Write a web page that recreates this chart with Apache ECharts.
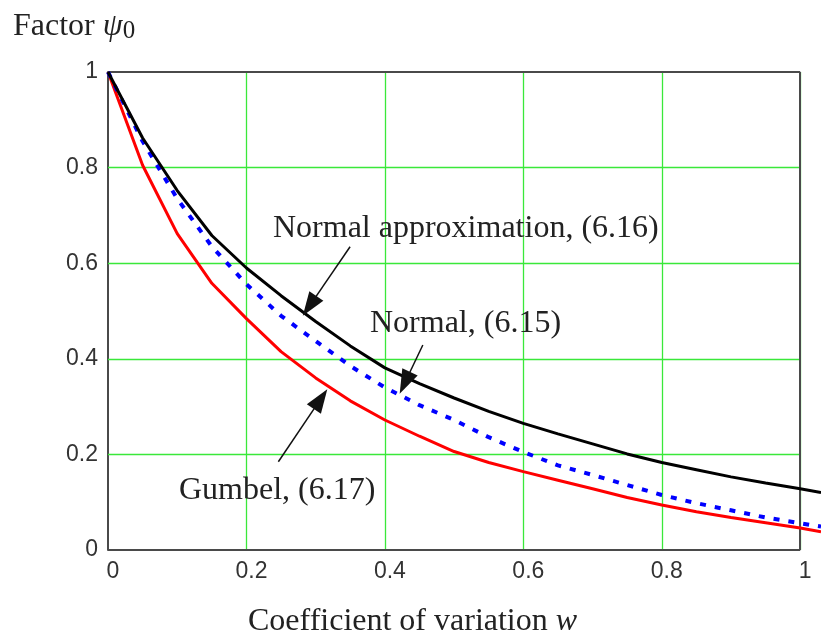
<!DOCTYPE html>
<html>
<head>
<meta charset="utf-8">
<script src="https://cdn.jsdelivr.net/npm/echarts@6/dist/echarts.min.js"></script>
<style>html,body{margin:0;padding:0;background:#fff}#c{width:821px;height:632px}</style>
</head>
<body>
<div id="c"></div>
<script>
// Coefficient of variation w
var wValues = [0, 0.05, 0.1, 0.15, 0.2, 0.25, 0.3, 0.35, 0.4, 0.45, 0.5, 0.55, 0.6, 0.65, 0.7, 0.75, 0.8, 0.85, 0.9, 0.95, 1.0, 1.03];
// Normal approximation, (6.16)
var normalApprox = [1, 0.862, 0.752, 0.658, 0.59, 0.532, 0.478, 0.427, 0.381, 0.348, 0.318, 0.29, 0.265, 0.243, 0.222, 0.201, 0.183, 0.168, 0.153, 0.14, 0.128, 0.12];
// Normal, (6.15)
var normalExact = [1, 0.855, 0.735, 0.635, 0.556, 0.49, 0.437, 0.385, 0.34, 0.303, 0.272, 0.236, 0.205, 0.177, 0.157, 0.136, 0.115, 0.098, 0.083, 0.068, 0.056, 0.049];
// Gumbel, (6.17)
var gumbel = [1, 0.805, 0.662, 0.558, 0.484, 0.415, 0.36, 0.312, 0.272, 0.238, 0.206, 0.183, 0.164, 0.146, 0.128, 0.11, 0.094, 0.08, 0.068, 0.057, 0.046, 0.038];
var xTicks = [0, 0.2, 0.4, 0.6, 0.8, 1];
var yTicks = [0, 0.2, 0.4, 0.6, 0.8, 1];

var labelApprox = 'Normal approximation, (6.16)';
var labelNormal = 'Normal, (6.15)';
var labelGumbel = 'Gumbel, (6.17)';

function pairs(ys) { return wValues.map(function (w, i) { return [w, ys[i]]; }); }

var chart = echarts.init(document.getElementById('c'), null, { renderer: 'canvas' });
var serif = '"Liberation Serif", "Times New Roman", serif';
var sans = '"Liberation Sans", Arial, sans-serif';
var xMin = xTicks[0], xMax = xTicks[xTicks.length - 1];
var yMin = yTicks[0], yMax = yTicks[yTicks.length - 1];
var xExtent = 1.03; // curves run past the plot frame to the image edge

function seg(a, b, style) {
  return [{ coord: a, symbol: 'none', lineStyle: style }, { coord: b, symbol: 'none', lineStyle: style }];
}
function arrow(a, b) {
  return [{ coord: a, symbol: 'none' }, { coord: b, symbol: 'triangle' }];
}

var greenStyle = { color: '#3ae83a', width: 1.3, type: 'solid' };
var frameStyle = { color: '#4a4a4a', width: 2, type: 'solid' };

var gridLines = yTicks.slice(1, -1).map(function (y) { return seg([xMin, y], [xMax, y], greenStyle); });
var frameLines = [
  seg([xMin, yMax], [xMax, yMax], frameStyle),
  seg([xMax, yMin], [xMax, yMax], frameStyle),
  seg([xMin, yMin], [xMax, yMin], frameStyle)
];

chart.setOption({
  backgroundColor: '#fff',
  animation: false,
  grid: { left: 108, top: 72, right: 0, bottom: 82, show: false },
  xAxis: {
    type: 'value', min: xMin, max: xExtent, interval: 0.2,
    axisLine: { show: false },
    axisTick: { show: false },
    axisLabel: { fontFamily: sans, fontSize: 23, color: '#333', margin: 10, padding: [0, 0, 0, 10], showMaxLabel: false },
    splitLine: { show: true, showMaxLine: false, showMinLine: false, lineStyle: { color: '#3ae83a', width: 1.3 } }
  },
  yAxis: {
    type: 'value', min: yMin, max: yMax, interval: 0.2,
    axisLine: { show: true, lineStyle: { color: '#4a4a4a', width: 2 } },
    axisTick: { show: false },
    axisLabel: { fontFamily: sans, fontSize: 23, color: '#333', margin: 10 },
    splitLine: { show: false }
  },
  series: [
    {
      name: 'frame', type: 'line', data: [], z: 1, silent: true,
      markLine: {
        silent: true, z: 1, animation: false,
        label: { show: false },
        data: gridLines.concat(frameLines)
      }
    },
    {
      name: labelGumbel, type: 'line', data: pairs(gumbel), showSymbol: false, clip: false, z: 3,
      lineStyle: { color: '#ff0000', width: 3 }
    },
    {
      name: labelNormal, type: 'line', data: pairs(normalExact), showSymbol: false, clip: false, z: 3,
      lineStyle: { color: '#0000ff', width: 4, type: [6, 9] }
    },
    {
      name: labelApprox, type: 'line', data: pairs(normalApprox), showSymbol: false, clip: false, z: 3,
      lineStyle: { color: '#000', width: 3 },
      markLine: {
        silent: true, z: 6, symbolSize: [17, 24],
        label: { show: false },
        lineStyle: { color: '#111', width: 1.5, type: 'solid' },
        itemStyle: { color: '#111' },
        data: [
          arrow([0.3497, 0.6345], [0.2912, 0.5107]),
          arrow([0.4548, 0.4289], [0.4288, 0.3498]),
          arrow([0.2461, 0.1847], [0.3071, 0.3157])
        ]
      }
    }
  ],
  graphic: [
    { type: 'text', left: 13, top: 11, style: { text: 'Factor {p|ψ}{s|0}', font: '32px ' + serif, fill: '#222',
      rich: { p: { fontFamily: serif, fontSize: 32, fontStyle: 'italic', fill: '#222' }, s: { fontFamily: serif, fontSize: 25, fill: '#222', padding: [9, 0, 0, 0] } } } },
    { type: 'text', left: 248, top: 606, style: { text: 'Coefficient of variation {w|w}', font: '32px ' + serif, fill: '#222',
      rich: { w: { fontFamily: serif, fontSize: 32, fontStyle: 'italic', fill: '#222' } } } },
    { type: 'text', left: 273, top: 213, z: 10, style: { text: labelApprox, font: '32px ' + serif, fill: '#222' } },
    { type: 'text', left: 370, top: 308, z: 10, style: { text: labelNormal, font: '32px ' + serif, fill: '#222' } },
    { type: 'text', left: 179, top: 475, z: 10, style: { text: labelGumbel, font: '32px ' + serif, fill: '#222' } }
  ]
});
</script>
</body>
</html>
